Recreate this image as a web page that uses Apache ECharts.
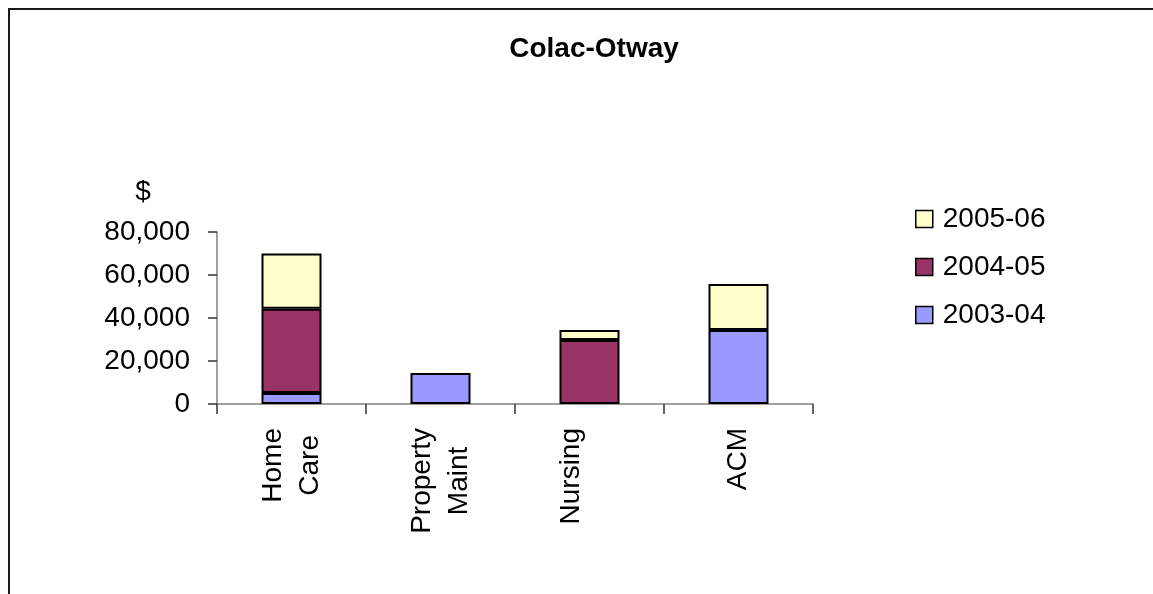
<!DOCTYPE html>
<html>
<head>
<meta charset="utf-8">
<title>Colac-Otway</title>
<script src="https://cdn.jsdelivr.net/npm/echarts@6.0.0/dist/echarts.min.js"></script>
<style>
  html, body { margin: 0; padding: 0; background: #ffffff; }
  #chart { width: 1153px; height: 594px; }
</style>
</head>
<body>
<div id="chart"></div>
<script>
// Service categories (line breaks as they wrap under the axis)
const categories = ['Home\nCare', 'Property\nMaint', 'Nursing\n', 'ACM'];

// Funding per year, $ (null = no funding that year)
const funding0304 = [5100, 14400, null, 34400];
const funding0405 = [39200, null, 29800, null];
const funding0506 = [25700, null, 4600, 21400];

const seriesNames = ['2003-04', '2004-05', '2005-06'];
const seriesColors = ['#9999ff', '#993366', '#ffffcc'];
const legendOrder = ['2005-06', '2004-05', '2003-04'];

// Value axis ticks
const yMin = 0;
const yMax = 80000;
const yStep = 20000;

const FONT = '"Liberation Sans", Arial, sans-serif';
const LABEL_SIZE = 28;

function withCommas(v) {
  return String(v).replace(/\B(?=(\d{3})+(?!\d))/g, ',');
}

const seriesData = [funding0304, funding0405, funding0506];

const chart = echarts.init(document.getElementById('chart'), null, { renderer: 'canvas' });

chart.setOption({
  animation: false,
  backgroundColor: '#ffffff',
  textStyle: { fontFamily: FONT, color: '#000' },
  title: {
    text: 'Colac-Otway',
    left: 589,
    textAlign: 'center',
    top: 30,
    textStyle: { fontFamily: FONT, fontSize: 28, fontWeight: 'bold', color: '#000' }
  },
  graphic: [
    {
      type: 'rect',
      silent: true,
      z: -10,
      shape: { x: 9, y: 9, width: 1300, height: 800 },
      style: { fill: 'none', stroke: '#1a1a1a', lineWidth: 2 }
    },
    {
      type: 'text',
      silent: true,
      x: 143,
      y: 192,
      style: {
        text: '$',
        fontFamily: FONT,
        fontSize: LABEL_SIZE,
        fill: '#000',
        align: 'center',
        verticalAlign: 'middle'
      }
    }
  ],
  legend: {
    orient: 'vertical',
    left: 910,
    top: 199,
    icon: 'rect',
    itemWidth: 17,
    itemHeight: 17,
    itemGap: 18,
    data: legendOrder,
    itemStyle: { borderColor: '#000', borderWidth: 1.5 },
    textStyle: { fontFamily: FONT, fontSize: LABEL_SIZE, color: '#000', lineHeight: 30, padding: [0, 0, 0, 5] }
  },
  grid: {
    left: 217,
    right: 340,
    top: 232,
    bottom: 190,
    containLabel: false
  },
  xAxis: {
    type: 'category',
    data: categories,
    boundaryGap: true,
    axisLine: { show: true, lineStyle: { color: '#808080', width: 1.5 } },
    axisTick: { show: true, length: 10, alignWithLabel: false, lineStyle: { color: '#333', width: 1.5 } },
    axisLabel: {
      interval: 0,
      rotate: 90,
      margin: 24,
      formatter: function (v) {
        return v.split('\n').map(function (s) { return s ? '{c|' + s + '}' : '{c| }'; }).join('\n');
      },
      rich: {
        c: { align: 'center', fontFamily: FONT, fontSize: LABEL_SIZE, lineHeight: 37, color: '#000' }
      }
    },
    splitLine: { show: false }
  },
  yAxis: {
    type: 'value',
    min: yMin,
    max: yMax,
    interval: yStep,
    axisLine: { show: true, lineStyle: { color: '#808080', width: 1.5 } },
    axisTick: { show: true, length: 9, inside: false, lineStyle: { color: '#333', width: 1.5 } },
    axisLabel: {
      margin: 27,
      fontFamily: FONT,
      fontSize: LABEL_SIZE,
      color: '#000',
      formatter: withCommas
    },
    splitLine: { show: false }
  },
  series: seriesNames.map(function (name, i) {
    return {
      name: name,
      type: 'bar',
      stack: 'funding',
      barWidth: 60,
      data: seriesData[i],
      itemStyle: { color: seriesColors[i], borderColor: '#000', borderWidth: 2 },
      emphasis: { disabled: true }
    };
  })
});
</script>
</body>
</html>
